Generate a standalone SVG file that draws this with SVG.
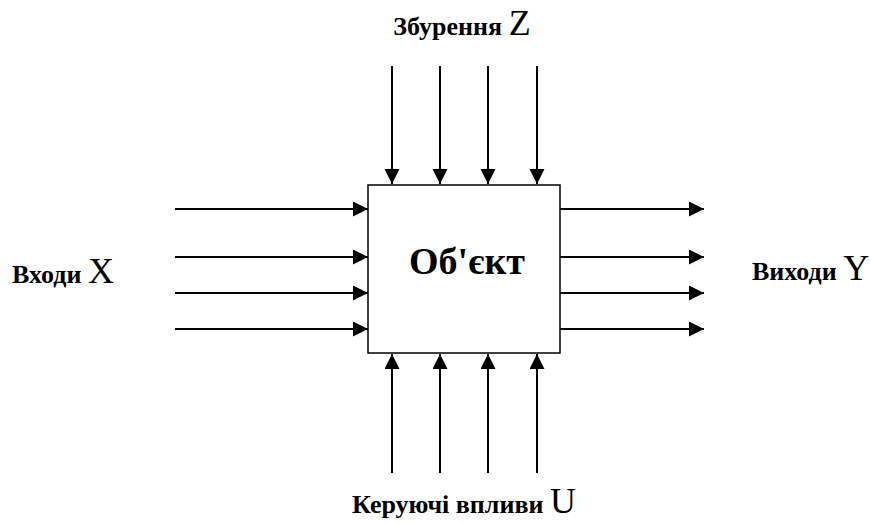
<svg xmlns="http://www.w3.org/2000/svg" width="870" height="524" viewBox="0 0 870 524">
<style>
.ln{stroke:#000;stroke-width:2;fill:none}
.lbl{font-family:"Liberation Serif","Times New Roman","DejaVu Serif",serif;font-weight:bold;font-size:26px;fill:#000}
.big{font-family:"Liberation Serif","Times New Roman","DejaVu Serif",serif;font-size:36px;fill:#000}
.obj{font-family:"Liberation Serif","Times New Roman","DejaVu Serif",serif;font-weight:bold;font-size:38px;fill:#000}
</style>
<defs>
<marker id="ah" markerWidth="16" markerHeight="16" refX="15" refY="7.5" orient="auto" markerUnits="userSpaceOnUse">
<path d="M0,0 L15,7.5 L0,15 Z" fill="#000"/>
</marker>
</defs>
<rect width="870" height="524" fill="#fff"/>
<g id="object">
<rect x="368" y="185" width="192" height="168" fill="#fff" stroke="#000" stroke-width="1.5"/>
<text class="obj" x="467" y="274" text-anchor="middle">Об'єкт</text>
</g>
<g id="label-z"><text x="462" y="35" text-anchor="middle"><tspan class="lbl">Збурення </tspan><tspan class="big">Z</tspan></text></g>
<g id="label-x"><text x="12" y="283"><tspan class="lbl">Входи </tspan><tspan class="big">X</tspan></text></g>
<g id="label-y"><text x="752" y="280"><tspan class="lbl">Виходи </tspan><tspan class="big">Y</tspan></text></g>
<g id="label-u"><text x="464" y="513" text-anchor="middle"><tspan class="lbl">Керуючі впливи </tspan><tspan class="big">U</tspan></text></g>
<g id="connectors">
<line class="ln" x1="392" y1="66" x2="392" y2="184" marker-end="url(#ah)"/>
<line class="ln" x1="440" y1="66" x2="440" y2="184" marker-end="url(#ah)"/>
<line class="ln" x1="488" y1="66" x2="488" y2="184" marker-end="url(#ah)"/>
<line class="ln" x1="537" y1="66" x2="537" y2="184" marker-end="url(#ah)"/>
<line class="ln" x1="175" y1="209" x2="368" y2="209" marker-end="url(#ah)"/>
<line class="ln" x1="175" y1="257" x2="368" y2="257" marker-end="url(#ah)"/>
<line class="ln" x1="175" y1="293" x2="368" y2="293" marker-end="url(#ah)"/>
<line class="ln" x1="175" y1="329" x2="368" y2="329" marker-end="url(#ah)"/>
<line class="ln" x1="560" y1="209" x2="704" y2="209" marker-end="url(#ah)"/>
<line class="ln" x1="560" y1="257" x2="704" y2="257" marker-end="url(#ah)"/>
<line class="ln" x1="560" y1="293" x2="704" y2="293" marker-end="url(#ah)"/>
<line class="ln" x1="560" y1="329" x2="704" y2="329" marker-end="url(#ah)"/>
<line class="ln" x1="392" y1="473" x2="392" y2="354" marker-end="url(#ah)"/>
<line class="ln" x1="440" y1="473" x2="440" y2="354" marker-end="url(#ah)"/>
<line class="ln" x1="488" y1="473" x2="488" y2="354" marker-end="url(#ah)"/>
<line class="ln" x1="537" y1="473" x2="537" y2="354" marker-end="url(#ah)"/>
</g>
</svg>
